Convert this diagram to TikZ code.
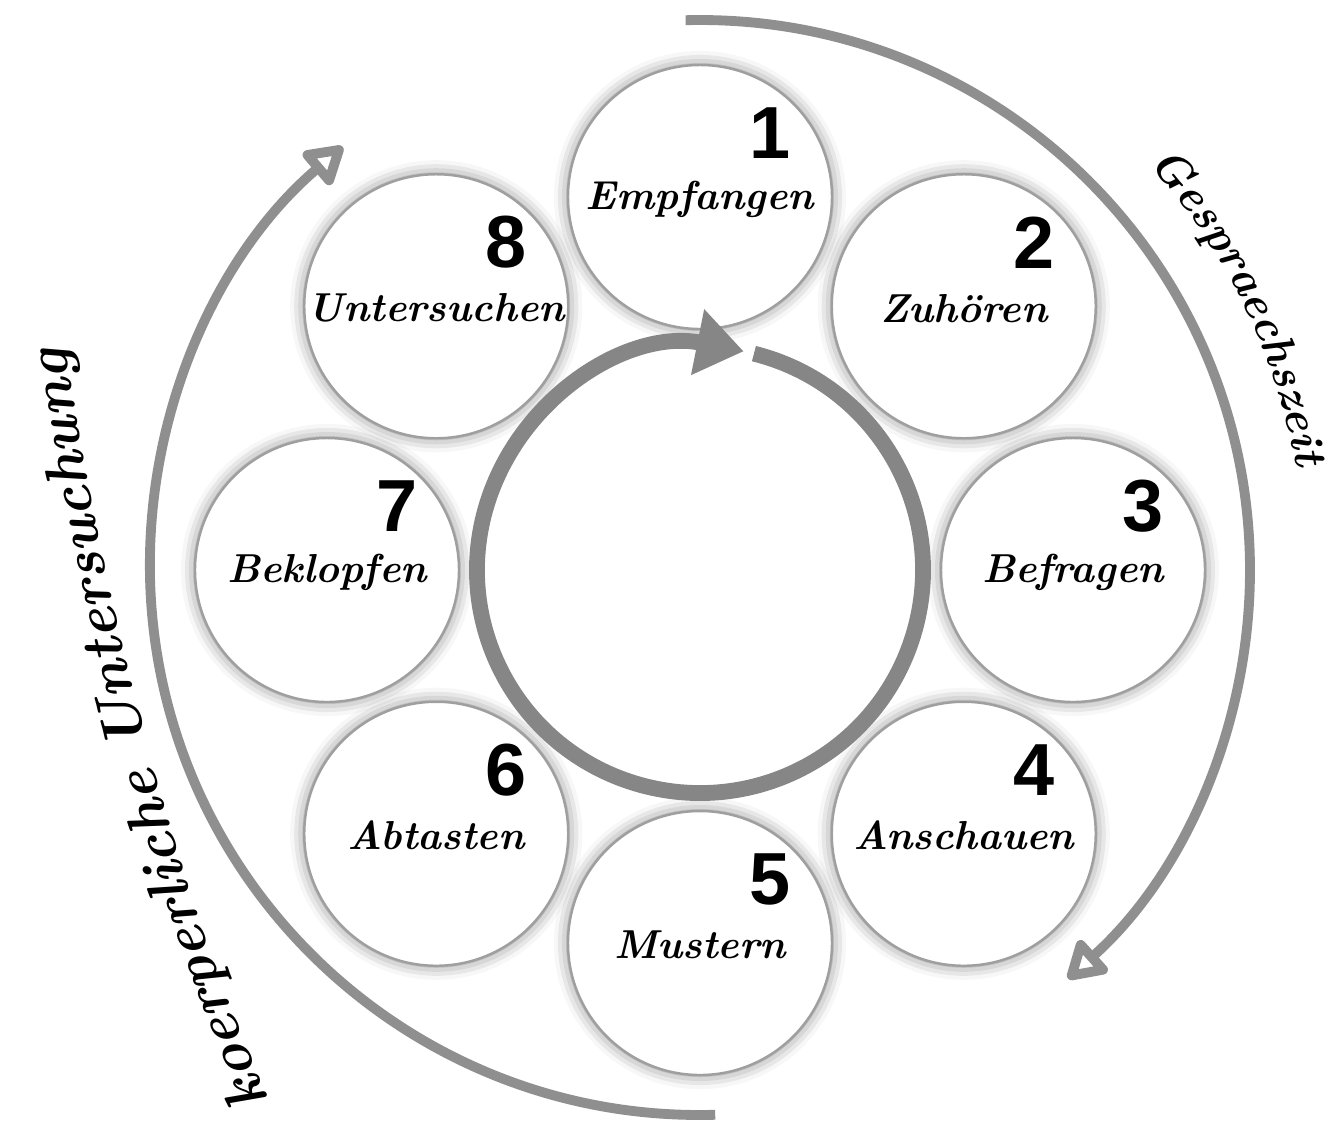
\documentclass[tikz,border=0pt]{standalone}
\usepackage{fontspec}
\newfontfamily\numfont{Liberation Sans}
\usetikzlibrary{arrows.meta, decorations.text, shadows.blur}
\definecolor{ringgray}{HTML}{868686}
\definecolor{arcgray}{HTML}{8F8F8F}
\tikzset{
    stepdisc/.style = {circle, fill=white, draw=gray!75, line width=0.7pt, minimum size=2.64cm, inner sep=0pt,
        blur shadow={shadow xshift=0pt, shadow yshift=0pt, shadow blur radius=4pt, shadow opacity=50}},
    stepname/.style = {font=\fontsize{11.5}{11.5}\selectfont\bfseries\itshape},
    stepnum/.style = {font=\fontsize{21}{21}\selectfont\numfont\bfseries},
    phase/.style = {draw=arcgray, line width=2.8pt, -{Triangle[open, length=0.42cm, width=0.48cm, line join=round]}},
    ring/.style = {draw=ringgray, line width=4.5pt, -{Triangle[length=0.47cm, width=0.64cm]}}
}
\begin{document}
\begin{tikzpicture}
    \useasboundingbox (-7.0,-5.52) rectangle (6.4,5.70);
    \coordinate (c) at (0,0);
    \foreach \name [count=\i] in {Empfangen, Zuhören, Befragen, Anschauen, Mustern, Abtasten, Beklopfen, Untersuchen} {
        \node[stepdisc] (s\i) at ({135-45*\i}:3.73) {};
        \node[stepname] (w\i) at ([yshift=-0.02cm]s\i) {\name};
        \node[stepnum] (n\i) at ([shift={(0.7,0.64)}]s\i) {\i};
    }
    \path[ring] ([shift={(76:2.23)}]c) arc[start angle=76, end angle=-281.3, radius=2.23];
    \path[phase] ([shift={(91.5:5.5)}]c) arc[start angle=91.5, end angle=-48, radius=5.5];
    \path[phase] ([shift={(-88.4:5.45)}]c) arc[start angle=-88.4, end angle=-229.5, radius=5.5];
    \path[decorate, decoration={text along path, text align=center,
        text={|\fontsize{13}{13}\selectfont\bfseries\itshape|Gespraechszeit}}]
        (56:6.05) arc[start angle=56, end angle=-4, radius=6.05];
    \path[decorate, decoration={text along path,
        text={|\fontsize{16.5}{16.5}\selectfont\bfseries\itshape|koerperliche Untersuchung}}]
        (-4.3,-5.3) .. controls (-5.33,-3.03) and (-6.02,-0.05) .. (-6.45,2.9);
\end{tikzpicture}
\end{document}
